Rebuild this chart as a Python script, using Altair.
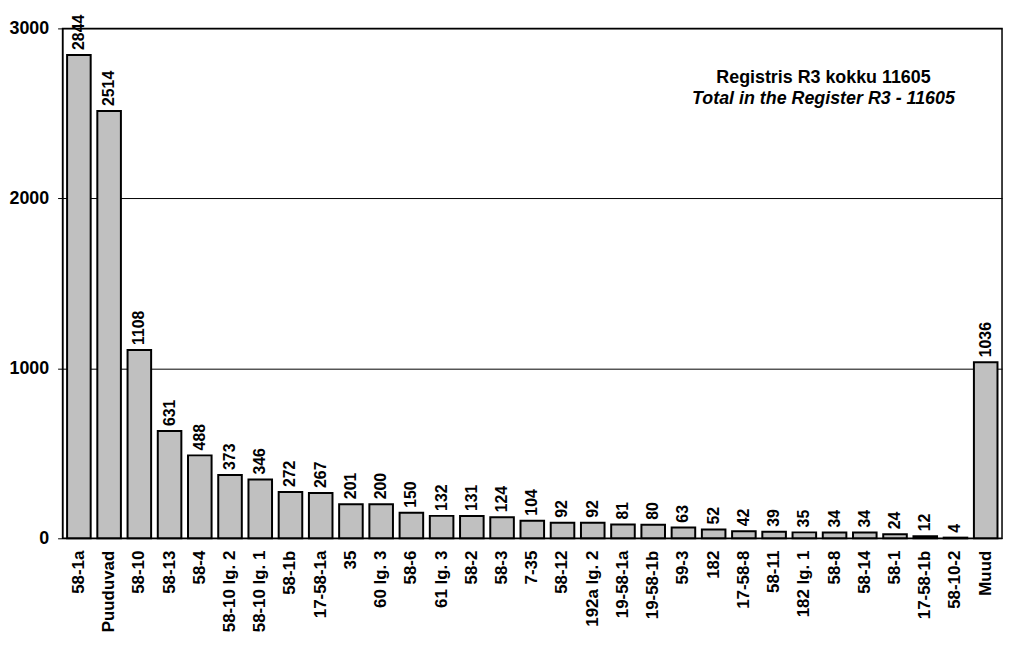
import altair as alt
import pandas as pd

categories = ["58-1a", "Puuduvad", "58-10", "58-13", "58-4", "58-10 lg. 2", "58-10 lg. 1",
              "58-1b", "17-58-1a", "35", "60 lg. 3", "58-6", "61 lg. 3", "58-2", "58-3",
              "7-35", "58-12", "192a lg. 2", "19-58-1a", "19-58-1b", "59-3", "182",
              "17-58-8", "58-11", "182 lg. 1", "58-8", "58-14", "58-1", "17-58-1b",
              "58-10-2", "Muud"]
values = [2844, 2514, 1108, 631, 488, 373, 346, 272, 267, 201, 200, 150, 132, 131, 124,
          104, 92, 92, 81, 80, 63, 52, 42, 39, 35, 34, 34, 24, 12, 4, 1036]
y_ticks = [0, 1000, 2000, 3000]
note_lines = ["Registris R3 kokku 11605", "Total in the Register R3 - 11605"]

df = pd.DataFrame({"cat": categories, "val": values})

FONT = "Liberation Sans"

x = alt.X("cat:N", sort=categories, title=None,
          scale=alt.Scale(paddingInner=0.22, paddingOuter=0.15),
          axis=alt.Axis(labelAngle=-90, labelFont=FONT, labelFontSize=17,
                        labelFontWeight="bold", labelColor="black", ticks=False,
                        labelPadding=12, domain=False, labelLimit=200))
y = alt.Y("val:Q", title=None,
          scale=alt.Scale(domain=[0, 3000], nice=False),
          axis=alt.Axis(values=y_ticks, format="d", labelFont=FONT, labelFontSize=18,
                        labelFontWeight="bold", labelColor="black", tickColor="black",
                        tickSize=5, labelPadding=9, domainColor="black",
                        gridColor="black", gridWidth=1, grid=True))

bars = alt.Chart(df).mark_bar(fill="#c0c0c0", stroke="black", strokeWidth=2).encode(x=x, y=y)

labels = alt.Chart(df).mark_text(angle=270, align="left", baseline="middle", dx=5,
                                 font=FONT, fontSize=16, fontWeight="bold",
                                 color="black").encode(
    x=alt.X("cat:N", sort=categories),
    y=alt.Y("val:Q"),
    text=alt.Text("val:Q"))

note1 = alt.Chart(pd.DataFrame({"t": [note_lines[0]]})).mark_text(
    font=FONT, fontSize=18, fontWeight="bold", color="black", align="center",
    baseline="alphabetic").encode(
    x=alt.value(767), y=alt.value(55), text="t:N")
note2 = alt.Chart(pd.DataFrame({"t": [note_lines[1]]})).mark_text(
    font=FONT, fontSize=18, fontWeight="bold", fontStyle="italic", color="black",
    align="center", baseline="alphabetic").encode(
    x=alt.value(767), y=alt.value(76), text="t:N")

chart = alt.layer(bars, labels, note1, note2).properties(
    width=947, height=514,
    autosize=alt.AutoSizeParams(type="none"),
    padding={"left": 55, "top": 18, "right": 3, "bottom": 109},
).configure_view(stroke="black", strokeWidth=1.5).configure_axisY(gridOpacity=1)

chart.save("out.html", embed_options={"renderer": "svg", "actions": False})
